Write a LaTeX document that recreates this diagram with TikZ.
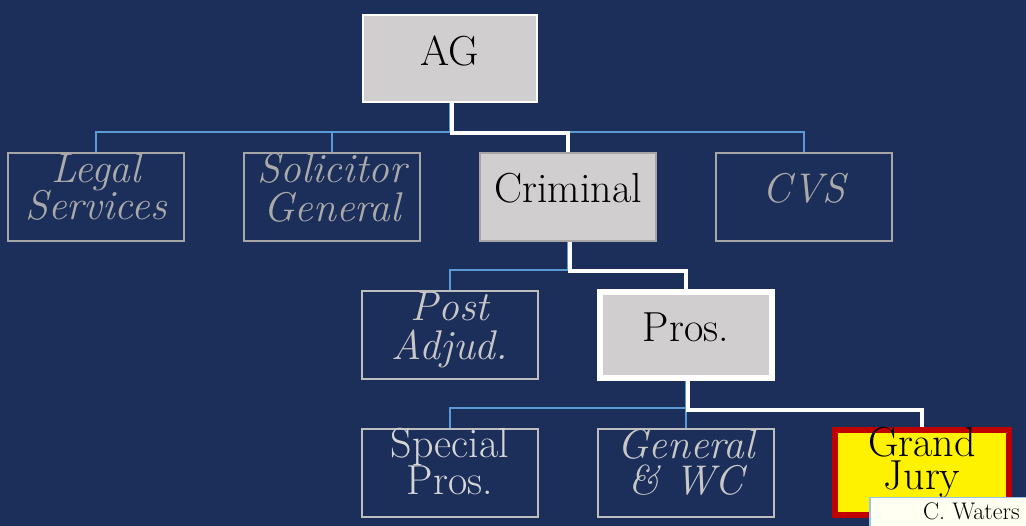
\documentclass[tikz,border=0pt]{standalone}
\definecolor{bg}{RGB}{28,46,90}
\definecolor{boxgray}{RGB}{208,206,206}
\definecolor{edgegray}{RGB}{166,166,166}
\definecolor{edgelight}{RGB}{190,190,190}
\definecolor{txtgray}{RGB}{170,170,170}
\definecolor{txtmid}{RGB}{200,200,200}
\definecolor{txtlight}{RGB}{214,214,214}
\definecolor{linkblue}{RGB}{91,155,213}
\definecolor{gjred}{RGB}{192,0,0}
\definecolor{cwfill}{RGB}{255,255,242}
\definecolor{cwedge}{RGB}{157,195,230}
\pgfdeclarelayer{back}
\pgfdeclarelayer{lines}
\pgfdeclarelayer{top}
\pgfsetlayers{back,lines,main,top}
% one line of text whose baseline lies #1pt below the node centre
\newcommand\oneln[2]{\makebox[0pt][c]{\raisebox{-#1pt}[0pt][0pt]{#2}}}
% two lines, baselines #1pt and #2pt below the node centre
\newcommand\twoln[4]{\makebox[0pt][c]{\raisebox{-#1pt}[0pt][0pt]{#3}}%
  \makebox[0pt][c]{\raisebox{-#2pt}[0pt][0pt]{#4}}}
\begin{document}
\begin{tikzpicture}[x=1pt,y=-1pt,
  base/.style={rectangle, inner sep=0pt, outer sep=0pt,
    font=\fontsize{42}{38}\selectfont},
  darkbox/.style={base, draw=edgegray, line width=1.5pt, fill=bg,
    minimum width=176, minimum height=88},
  itbox/.style={darkbox, text=txtgray, font=\fontsize{41.5}{38}\selectfont\itshape},
  lowit/.style={itbox, draw=edgelight, text=txtmid},
  upbox/.style={darkbox, draw=edgelight, text=txtlight},
  graybox/.style={base, fill=boxgray, text=black},
  blueline/.style={draw=linkblue, line width=1.5pt},
  whiteline/.style={draw=white, line width=4.5pt},
]
\useasboundingbox (0,0) rectangle (1026,526);
\begin{pgfonlayer}{back}
\fill[bg] (0,0) rectangle (1026,526);
\end{pgfonlayer}

% bus coordinates
\coordinate (b1) at (450,132);
\coordinate (b2) at (568,270);
\coordinate (b3) at (686,408);

% nodes
\node[graybox, draw=white, line width=2.5pt, minimum width=174, minimum height=87] (ag) at (450,58.5) {\oneln{7.5}{AG}};
\node[itbox] (legal) at (96,197) {\twoln{-14}{23}{Legal}{Services}};
\node[itbox] (sol) at (332,197) {\twoln{-14}{25}{Solicitor}{General}};
\node[graybox, draw=edgegray, line width=1.5pt, minimum width=176, minimum height=88] (crim) at (568,197) {\oneln{6}{Criminal}};
\node[itbox] (cvs) at (804,197) {\oneln{6}{CVS}};
\node[lowit] (post) at (450,335) {\twoln{-14}{25}{Post}{Adjud.}};
\node[graybox, draw=white, line width=6pt, minimum width=172, minimum height=86] (pros) at (686,335) {\oneln{7}{Pros.}};
\node[upbox] (spec) at (450,473) {\twoln{-15}{22}{Special}{Pros.}};
\node[lowit] (gen) at (686,473) {\twoln{-14}{22}{General}{\&~WC}};
\node[base, draw=gjred, fill=yellow, line width=6pt, minimum width=174, minimum height=85,
  text=black] (gj) at (922,472.5) {\twoln{-15.5}{17}{Grand}{Jury}};

\begin{pgfonlayer}{lines}
% blue connectors
\draw[blueline] (ag.south) -- (b1) -| (legal.north);
\draw[blueline] (b1) -| (sol.north);
\draw[blueline] (b1) -| (crim.north);
\draw[blueline] (b1) -| (cvs.north);
\draw[blueline] (crim.south) -- (b2) -| (post.north);
\draw[blueline] (b2) -| (pros.north);
\draw[blueline] (pros.south) -- (b3) -| (spec.north);
\draw[blueline] (b3) -| (gen.north);
% white highlighted path
\draw[whiteline] ([xshift=2pt]ag.south) -- ([xshift=2pt,yshift=-1pt]b1) -| (crim.north);
\draw[whiteline] ([xshift=2pt]crim.south) -- ([xshift=2pt,yshift=-1pt]b2) -| (pros.north);
\draw[whiteline] ([xshift=2pt]pros.south) -- ([xshift=2pt,yshift=-2pt]b3) -| (gj.north);
\end{pgfonlayer}

% C. Waters label box
\begin{pgfonlayer}{top}
\node[rectangle, draw=cwedge, fill=cwfill, line width=1.5pt, anchor=north west,
  minimum width=175, minimum height=40, inner sep=0pt] (cw) at (869,497) {};
\node[anchor=base east, inner sep=0pt, font=\fontsize{24}{26}\selectfont] (cwt) at (1020,519) {C. Waters};
\end{pgfonlayer}
\end{tikzpicture}
\end{document}
